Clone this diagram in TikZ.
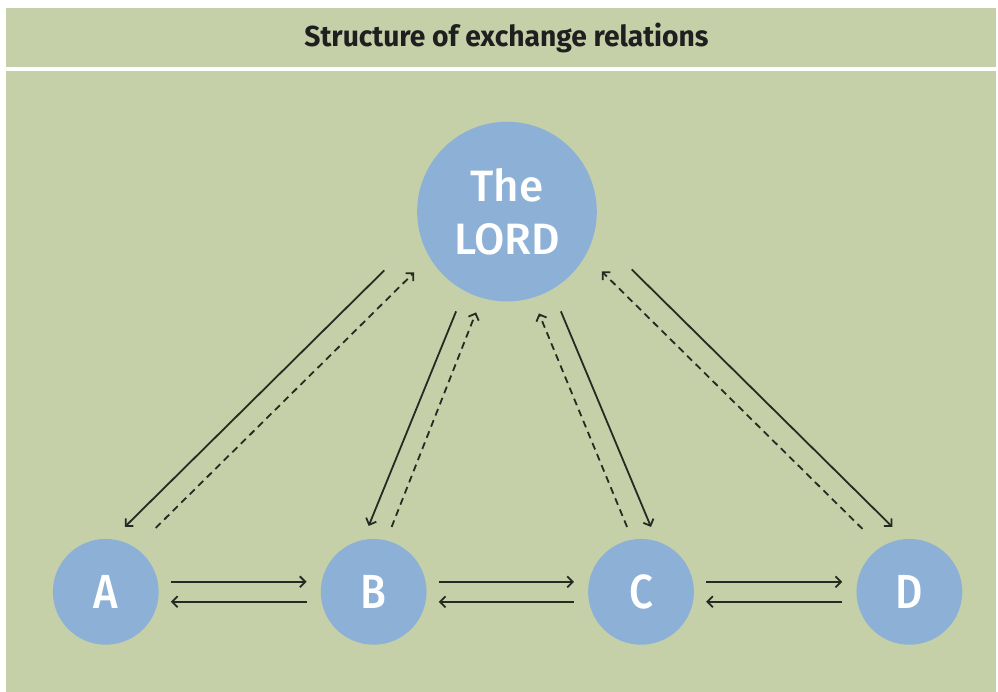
\documentclass[tikz,border=0pt]{standalone}
\usepackage{fontspec}
\setmainfont{Fira Sans}
\newfontfamily\partyfont{Fira Sans Medium}
\usetikzlibrary{calc,arrows.meta,positioning}

\definecolor{panelgreen}{RGB}{197,208,168}
\definecolor{circleblue}{RGB}{141,176,214}
\definecolor{arrowdark}{RGB}{38,42,34}

\tikzset{
    party/.style={circle, fill=circleblue, minimum size=106pt, inner sep=0pt,
        text=white, font=\fontsize{48}{48}\selectfont\partyfont},
    lord/.style={party, minimum size=180pt, align=center,
        font=\fontsize{44}{53}\selectfont\partyfont},
    gift/.style={draw=arrowdark, line width=1.8pt,
        -{Straight Barb[length=5.5pt,width=11pt]}},
    counter/.style={gift, dash pattern=on 7pt off 5pt}
}

\begin{document}
\begin{tikzpicture}[x=1pt, y=1pt]

	\fill[white] (0,0) rectangle (998,693);
	\fill[panelgreen] (6,0) rectangle (998,685);
	\draw[white, line width=4pt] (6,623.5) -- (998,623.5);

	\node[anchor=base, text=black!88, font=\fontsize{29}{29}\selectfont\bfseries] (title) at (507.5,646)
	{\resizebox{405pt}{\height}{Structure of exchange relations}};

	\node[lord] (lord) at (508,481) {The\\LORD};
	\node[party] (a) at (106,100) {\scalebox{0.88}[1]{A}};
	\node[party, right=162pt of a] (b) {\scalebox{0.88}[1]{B}};
	\node[party, right=161.5pt of b] (c) {\scalebox{0.88}[1]{C}};
	\node[party, right=162.5pt of c] (d) {\scalebox{0.88}[1]{D}};

	% A and the LORD
	\draw[gift] ($(lord)+(-123,-59)$) -- ($(a)+(19,65)$);
	\draw[counter] ($(a)+(50,64)$) -- ($(lord)+(-93,-61)$);
	% B and the LORD
	\draw[gift] ($(lord)+(-51,-100)$) -- ($(b)+(-5,66)$);
	\draw[counter] ($(b)+(18,65)$) -- ($(lord)+(-31,-101)$);
	% C and the LORD
	\draw[gift] ($(lord)+(54,-100)$) -- ($(c)+(10,65)$);
	\draw[counter] ($(c)+(-14,65)$) -- ($(lord)+(32,-102)$);
	% D and the LORD
	\draw[gift] ($(lord)+(125,-58)$) -- ($(d)+(-17,65)$);
	\draw[counter] ($(d)+(-47,63)$) -- ($(lord)+(95,-60)$);

	% neighbours
	\foreach \p/\q in {a/b, b/c, c/d}{
		\draw[gift] ($(\p.east)+(12,10)$) -- ($(\q.west)+(-14,10)$);
		\draw[gift] ($(\q.west)+(-14,-10)$) -- ($(\p.east)+(12,-10)$);
	}

\end{tikzpicture}
\end{document}
